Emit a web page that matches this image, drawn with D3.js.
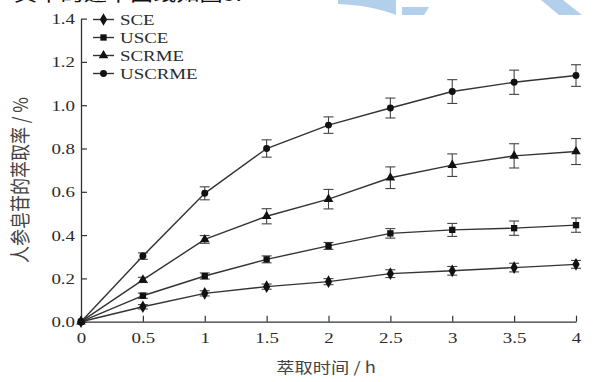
<!DOCTYPE html>
<html><head><meta charset="utf-8">
<script src="https://cdn.jsdelivr.net/npm/d3@7/dist/d3.min.js"></script>
<style>body{margin:0;background:#fff}svg{display:block}</style>
</head><body>
<svg id="c" width="595" height="382"></svg>
<script>
const times = [0, 0.5, 1, 1.5, 2, 2.5, 3, 3.5, 4];
const seriesNames = ["SCE", "USCE", "SCRME", "USCRME"];
const SCE      = [0, 0.069, 0.131, 0.162, 0.185, 0.222, 0.235, 0.250, 0.265];
const SCE_err  = [0, 0.010, 0.012, 0.012, 0.014, 0.018, 0.020, 0.020, 0.018];
const USCE     = [0, 0.120, 0.211, 0.288, 0.350, 0.408, 0.424, 0.432, 0.446];
const USCE_err = [0, 0.012, 0.014, 0.016, 0.016, 0.022, 0.030, 0.033, 0.033];
const SCRME    = [0, 0.193, 0.380, 0.487, 0.566, 0.665, 0.723, 0.766, 0.786];
const SCRME_err= [0, 0.012, 0.018, 0.035, 0.045, 0.050, 0.052, 0.056, 0.060];
const USCRME   = [0, 0.303, 0.593, 0.800, 0.908, 0.987, 1.063, 1.106, 1.137];
const USCRME_err=[0, 0.015, 0.030, 0.040, 0.038, 0.046, 0.055, 0.056, 0.050];
const xTicks = [0, 0.5, 1, 1.5, 2, 2.5, 3, 3.5, 4];
const xTickLabels = ["0", "0.5", "1", "1.5", "2", "2.5", "3", "3.5", "4"];
const yTicks = [0, 0.2, 0.4, 0.6, 0.8, 1.0, 1.2, 1.4];
const yTickLabels = ["0.0", "0.2", "0.4", "0.6", "0.8", "1.0", "1.2", "1.4"];
const xTitle = "萃取时间 / h";
const yTitle = "人参皂苷的萃取率 / %";
const topText = "其中的速率曲线如图3.";

const values = [SCE, USCE, SCRME, USCRME];
const errors = [SCE_err, USCE_err, SCRME_err, USCRME_err];
const symbols = [d3.symbolDiamond, d3.symbolSquare, d3.symbolTriangle, d3.symbolCircle];
const symSize = [46, 40, 40, 38];

const SX = 1.22;
const serif = "'Liberation Serif','Times New Roman',serif";
const cjk = "'Noto Sans CJK SC','Noto Sans CJK JP',sans-serif";
const ink = "#2a2a2a";

const svg = d3.select("#c");

// watermark (decorative)
const wm = svg.append("g").attr("fill", "#b2cfec");
wm.append("path").attr("d", "M338,0 L396,0 L396,15 C378,8 360,5 338,4 Z");
wm.append("path").attr("d", "M402,7 L429,7 L424,15 L402,15 Z");
wm.append("path").attr("d", "M541,0 L563,0 L582,15 L559,15 Z");

// cut-off text at the top
svg.append("text").attr("x", 242).attr("y", 0.5)
  .attr("text-anchor", "end").attr("font-family", cjk).attr("font-size", 19)
  .attr("fill", "#111").attr("transform", `translate(242,0) scale(${SX},1) translate(-242,0)`)
  .text(topText);

const x = d3.scaleLinear().domain([0, 4]).range([81, 576]);
const y = d3.scaleLinear().domain([0, 1.4]).range([321.7, 18.6]);

// axes
const gx = svg.append("g").attr("transform", `translate(0,${y(0)})`)
  .call(d3.axisBottom(x).tickValues(xTicks).tickFormat((d, i) => xTickLabels[i])
    .tickSize(-6).tickSizeOuter(0).tickPadding(10));
const gy = svg.append("g").attr("transform", `translate(${x(0)},0)`)
  .call(d3.axisLeft(y).tickValues(yTicks).tickFormat((d, i) => yTickLabels[i])
    .tickSize(-6).tickSizeOuter(0).tickPadding(6));
[gx, gy].forEach(g => {
  g.select(".domain").attr("stroke", "#333").attr("stroke-width", 1.3);
  g.selectAll(".tick line").attr("stroke", "#333").attr("stroke-width", 1.2);
  g.selectAll(".tick text").attr("font-family", serif).attr("font-size", 15.5).attr("fill", ink);
});
gx.selectAll(".tick text").attr("transform", `scale(${SX},1)`);
gy.selectAll(".tick text").attr("x", -6 / SX).attr("transform", `scale(${SX},1)`);

// titles
svg.append("text").attr("x", 0).attr("y", 0)
  .attr("transform", `translate(326,373) scale(${SX},1)`)
  .attr("text-anchor", "middle").attr("font-family", cjk).attr("font-size", 15)
  .attr("fill", "#444").text(xTitle);
svg.append("text")
  .attr("transform", `translate(28,180) scale(${SX},1) rotate(-90)`)
  .attr("text-anchor", "middle").attr("font-family", cjk).attr("font-size", 17)
  .attr("fill", "#444").text(yTitle);

// series
const line = d3.line().x((d, i) => x(times[i])).y(d => y(d));
values.forEach((vals, s) => {
  const g = svg.append("g");
  g.append("path").datum(vals).attr("d", line).attr("fill", "none")
    .attr("stroke", "#333").attr("stroke-width", 1.4);
  vals.forEach((d, i) => {
    const e = errors[s][i];
    if (!(e > 0)) return;
    const gg = g.append("g").attr("stroke", "#444").attr("stroke-width", 1.1);
    const cx = x(times[i]);
    gg.append("line").attr("x1", cx).attr("x2", cx).attr("y1", y(d - e)).attr("y2", y(d + e));
    gg.append("line").attr("x1", cx - 5).attr("x2", cx + 5).attr("y1", y(d - e)).attr("y2", y(d - e));
    gg.append("line").attr("x1", cx - 5).attr("x2", cx + 5).attr("y1", y(d + e)).attr("y2", y(d + e));
  });
  g.selectAll(".m").data(vals).join("path")
    .attr("d", d3.symbol(symbols[s], symSize[s]))
    .attr("transform", (d, i) => `translate(${x(times[i])},${y(d)})`)
    .attr("fill", "#111");
});

// legend
const leg = svg.append("g");
seriesNames.forEach((n, s) => {
  const cy = 19.5 + s * 18;
  leg.append("line").attr("x1", 93).attr("x2", 114).attr("y1", cy).attr("y2", cy)
    .attr("stroke", "#333").attr("stroke-width", 1.4);
  leg.append("path").attr("d", d3.symbol(symbols[s], symSize[s])())
    .attr("transform", `translate(103.5,${cy})`).attr("fill", "#111");
  leg.append("text").attr("x", 0).attr("y", 0)
    .attr("transform", `translate(120,${cy + 5.5}) scale(${SX},1)`)
    .attr("font-family", serif).attr("font-size", 15.5).attr("fill", ink).text(n);
});
</script>
</body></html>
